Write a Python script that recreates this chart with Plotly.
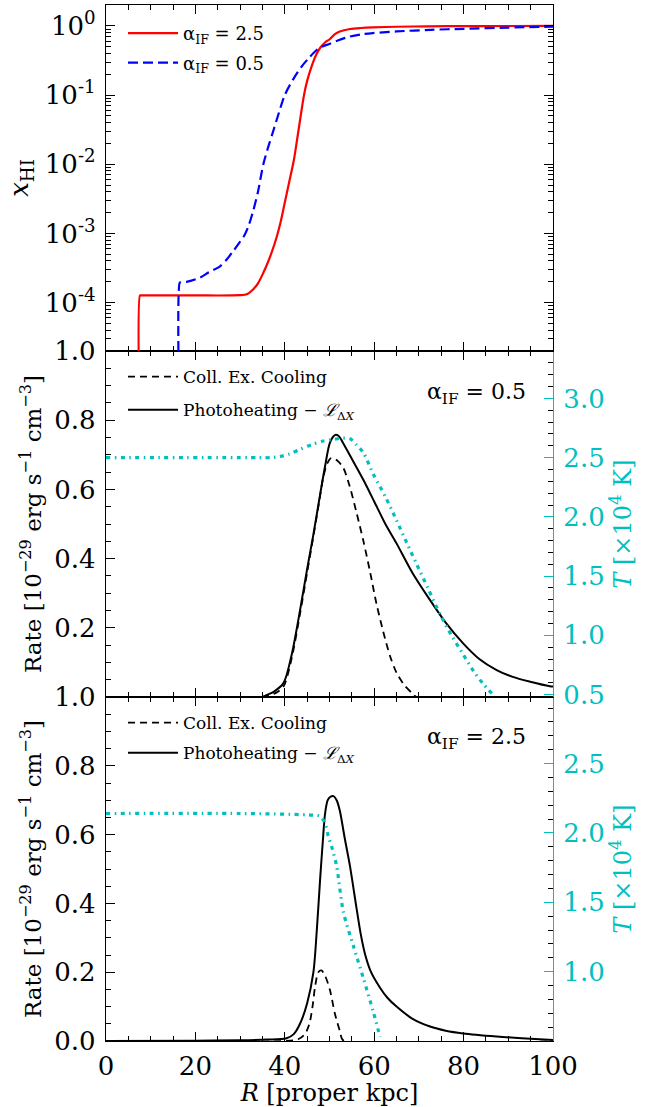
import plotly.graph_objects as go

# ---------------- data ----------------
# Panel 1: neutral fraction x_HI vs R
r_red = [7.6, 7.6, 7.8, 20, 30, 31.5, 32.9, 34, 35.2, 36.2, 37.1, 38.1, 39.0, 40.0, 41.0, 42.0, 43.1,
         44.3, 45.0, 46.0, 47.0, 48.0, 49.0, 50.1, 51.2, 52.3, 54.6, 57, 59.7, 65, 72, 80, 90, 100]
xhi_red = [1e-6, 1.27e-4, 1.27e-4, 1.27e-4, 1.28e-4, 1.32e-4, 1.55e-4, 1.9e-4, 2.7e-4, 3.8e-4,
           5.4e-4, 8.5e-4, 1.4e-3, 2.8e-3, 5.6e-3, 1.12e-2, 3.2e-2, 0.10, 0.16, 0.26, 0.38, 0.49,
           0.575, 0.645, 0.76, 0.83, 0.90, 0.93, 0.95, 0.97, 0.984, 0.99, 0.995, 0.998]

r_blue = [16.5, 16.5, 16.7, 18, 21, 23, 25.5, 27, 28.5, 30.0, 31.0, 32.0, 33.0, 34.0, 35.2, 36.3,
          37.4, 38.7, 40.0, 41.9, 43.8, 45.5, 47.0, 48.3, 50.1, 52.0, 54.6, 57, 59.7, 65, 72.5,
          80, 90, 100]
xhi_blue = [1e-6, 1.96e-4, 1.96e-4, 2.0e-4, 2.3e-4, 2.75e-4, 3.35e-4, 4.2e-4, 5.6e-4, 7.6e-4,
            9.5e-4, 1.35e-3, 2.2e-3, 4.0e-3, 1.0e-2, 1.78e-2, 3.0e-2, 5.6e-2, 0.10, 0.17, 0.26,
            0.35, 0.44, 0.50, 0.55, 0.62, 0.70, 0.75, 0.785, 0.83, 0.875, 0.906, 0.944, 0.973]

# Panel 2: alpha_IF = 0.5
r_coll05 = [0, 35, 36.5, 38, 39.7, 41.5, 43.4, 45, 46.4, 47.7, 48.6, 49.5, 50.3, 51, 52, 53.1, 54.5,
            56.1, 57.6, 59.1, 60.5, 62.0, 63.5, 65.0, 66.7, 68.4, 69.5, 100]
coll05 = [0, 0, 0.005, 0.012, 0.03, 0.11, 0.24, 0.36, 0.465, 0.565, 0.635, 0.675, 0.69, 0.69, 0.68,
          0.662, 0.61, 0.53, 0.45, 0.36, 0.27, 0.19, 0.12, 0.07, 0.035, 0.012, 0.0, 0]

r_heat05 = [0, 35, 36, 37.5, 39.7, 41.5, 43.4, 45, 46.4, 47.7, 49.0, 50.1, 51.2, 52.0, 53, 54.5, 56,
            57.6, 60, 62.5, 65.0, 68.5, 72.5, 76, 79.9, 83.5, 87.4, 91, 94.9, 99.3, 100]
heat05 = [0, 0, 0.006, 0.015, 0.04, 0.12, 0.25, 0.37, 0.47, 0.57, 0.666, 0.735, 0.757, 0.755, 0.735,
          0.70, 0.665, 0.627, 0.565, 0.50, 0.444, 0.36, 0.28, 0.215, 0.155, 0.11, 0.078, 0.058,
          0.044, 0.031, 0.03]

r_temp05 = [0, 34, 37, 38.9, 41, 43.4, 46, 48.6, 51, 53, 54.6, 56, 57.6, 59.8, 62.5, 65.0, 67.3,
            69.5, 72, 74.7, 77.3, 79.9, 82.2, 84.4, 86.3]
temp05 = [2.5, 2.5, 2.5, 2.51, 2.53, 2.57, 2.61, 2.64, 2.655, 2.665, 2.66, 2.61, 2.54, 2.36, 2.17,
          1.97, 1.78, 1.60, 1.40, 1.18, 1.0, 0.84, 0.70, 0.59, 0.51]

# Panel 3: alpha_IF = 2.5
r_coll25 = [0, 40, 43, 44.5, 45.5, 46.2, 46.8, 47.5, 48.2, 49, 50.1, 51.2, 52.3, 53.2, 100]
coll25 = [0, 0, 0.005, 0.02, 0.05, 0.1, 0.16, 0.2, 0.205, 0.19, 0.148, 0.08, 0.03, 0.0, 0]

r_heat25 = [0, 20, 30, 36, 40.4, 42, 43.4, 45, 46.4, 47.2, 47.9, 48.5, 49.0, 49.6, 50.2, 50.9, 51.6,
            52.3, 53.4, 54.6, 56, 57, 58, 59.3, 61.3, 63, 65.0, 68.5, 72.5, 76, 79.9, 87.4, 93, 100]
heat25 = [0.0, 0.001, 0.002, 0.004, 0.008, 0.02, 0.05, 0.11, 0.2, 0.33, 0.47, 0.58, 0.66, 0.70, 0.71,
          0.712, 0.70, 0.67, 0.59, 0.507, 0.39, 0.31, 0.25, 0.2, 0.155, 0.125, 0.10, 0.065, 0.042,
          0.03, 0.022, 0.013, 0.008, 0.003]

r_temp25 = [0, 30, 45, 47.9, 49.0, 49.7, 50.5, 51.6, 53.1, 55.3, 57.6, 59.8, 61.3]
temp25 = [2.14, 2.14, 2.13, 2.12, 2.07, 1.98, 1.9, 1.76, 1.43, 1.19, 0.95, 0.71, 0.53]

# ticks
x_ticks = [0, 20, 40, 60, 80, 100]
log_ticks = [1e-4, 1e-3, 1e-2, 1e-1, 1]
log_labels = ["10<sup>-4</sup>", "10<sup>-3</sup>", "10<sup>-2</sup>", "10<sup>-1</sup>", "10<sup>0</sup>"]
rate_ticks_mid = [0.2, 0.4, 0.6, 0.8, 1.0]
rate_ticks_bot = [0.0, 0.2, 0.4, 0.6, 0.8, 1.0]
t_ticks_mid = [0.5, 1.0, 1.5, 2.0, 2.5, 3.0]
t_ticks_bot = [0.5, 1.0, 1.5, 2.0, 2.5]
t_labels_bot = ["", "1.0", "1.5", "2.0", "2.5"]

# ---------------- style ----------------
FONT = "DejaVu Serif"
CYAN = "#00BFBF"
W, H = 652, 1107
L, R, T, B = 106, 99, 5, 66
PH = H - T - B


def py(ypix):
    return (H - B - ypix) / PH


def px(xpix):
    return (xpix - L) / (W - L - R)


CYAN_DASH = "4px,4.5px,1.5px,4.5px"
SPL = dict(shape="spline", smoothing=0.8)

fig = go.Figure()

# panel 1
fig.add_trace(go.Scatter(x=r_red, y=xhi_red, mode="lines", xaxis="x3", yaxis="y3",
                         line=dict(color="#FF0000", width=2.2, **SPL),
                         name="α<sub>IF</sub> = 2.5", legend="legend", legendgroup="a"))
fig.add_trace(go.Scatter(x=r_blue, y=xhi_blue, mode="lines", xaxis="x3", yaxis="y3",
                         line=dict(color="#0000FF", width=2.2, dash="10px,5px", **SPL),
                         name="α<sub>IF</sub> = 0.5", legend="legend", legendgroup="b"))

# panel 2
fig.add_trace(go.Scatter(x=r_temp05, y=temp05, mode="lines", xaxis="x2", yaxis="y5",
                         line=dict(color=CYAN, width=3.2, dash=CYAN_DASH, **SPL), showlegend=False))
fig.add_trace(go.Scatter(x=r_coll05, y=coll05, mode="lines", xaxis="x2", yaxis="y2",
                         line=dict(color="black", width=1.8, dash="7px,5px", **SPL),
                         name="Coll. Ex. Cooling", legend="legend2", legendgroup="c"))
fig.add_trace(go.Scatter(x=r_heat05, y=heat05, mode="lines", xaxis="x2", yaxis="y2",
                         line=dict(color="black", width=2, **SPL),
                         name="Photoheating − <i>ℒ</i><sub>Δ<i>X</i></sub>", legend="legend2",
                         legendgroup="d"))

# panel 3
fig.add_trace(go.Scatter(x=r_temp25, y=temp25, mode="lines", xaxis="x", yaxis="y4",
                         line=dict(color=CYAN, width=3.2, dash=CYAN_DASH, **SPL), showlegend=False))
fig.add_trace(go.Scatter(x=r_coll25, y=coll25, mode="lines", xaxis="x", yaxis="y",
                         line=dict(color="black", width=1.8, dash="7px,5px", **SPL),
                         name="Coll. Ex. Cooling", legend="legend3", legendgroup="e"))
fig.add_trace(go.Scatter(x=r_heat25, y=heat25, mode="lines", xaxis="x", yaxis="y",
                         line=dict(color="black", width=2, **SPL),
                         name="Photoheating − <i>ℒ</i><sub>Δ<i>X</i></sub>", legend="legend3",
                         legendgroup="f"))

tickfont = dict(family=FONT, size=26, color="black")
axline = dict(showline=True, linecolor="black", linewidth=1.3, showgrid=False, zeroline=False,
              ticks="inside", tickcolor="black", tickwidth=1.2, automargin=False)

xcommon = dict(range=[0, 100], tickvals=x_ticks, ticklen=9, mirror="ticks",
               minor=dict(ticks="inside", dtick=5, ticklen=4.5, tickcolor="black", tickwidth=1.1),
               **axline)

d1 = [py(351), 1.0]
d2 = [py(697), py(351)]
d3 = [0.0, py(697)]

rate_title = dict(text="Rate [10<sup>−29</sup> erg s<sup>−1</sup> cm<sup>−3</sup>]",
                  font=dict(family=FONT, size=23), standoff=6)
t_title = dict(text="<i>T</i> [×10<sup>4</sup> K]", font=dict(family=FONT, size=24, color=CYAN),
               standoff=6)
rminor = dict(ticks="inside", dtick=0.05, ticklen=4.5, tickcolor="black", tickwidth=1.1)
tminor = dict(ticks="inside", dtick=0.1, ticklen=4.5, tickcolor="black", tickwidth=1.1)
taxis = dict(showline=True, linecolor=CYAN, linewidth=1.3, showgrid=False, zeroline=False,
             ticks="inside", tickcolor=CYAN, tickwidth=1.2, ticklen=9, automargin=False,
             tickfont=dict(family=FONT, size=26, color=CYAN), ticklabelstandoff=4)
legcommon = dict(xanchor="left", yanchor="top", bgcolor="rgba(0,0,0,0)", traceorder="grouped",
                 itemwidth=50)

fig.update_layout(
    width=W, height=H,
    margin=dict(l=L, r=R, t=T, b=B, autoexpand=False),
    paper_bgcolor="white", plot_bgcolor="white",
    font=dict(family=FONT, color="black"),
    xaxis=dict(domain=[0, 1], anchor="y", tickfont=tickfont, ticklabelstandoff=2,
               title=dict(text="<i>R</i> [proper kpc]", font=dict(family=FONT, size=24), standoff=6),
               **xcommon),
    xaxis2=dict(domain=[0, 1], anchor="y2", matches="x", showticklabels=False, **xcommon),
    xaxis3=dict(domain=[0, 1], anchor="y3", matches="x", showticklabels=False, **xcommon),
    yaxis=dict(domain=d3, anchor="x", range=[0, 1.0], tickvals=rate_ticks_bot, tickformat=".1f",
               tickfont=tickfont, ticklen=9, ticklabelstandoff=4, minor=rminor,
               title=rate_title, **axline),
    yaxis2=dict(domain=d2, anchor="x2", range=[0, 1.0], tickvals=rate_ticks_mid, tickformat=".1f",
                tickfont=tickfont, ticklen=9, ticklabelstandoff=4, minor=rminor,
                title=rate_title, **axline),
    yaxis3=dict(domain=d1, anchor="x3", type="log", range=[-4.699, 0.301], tickvals=log_ticks,
                ticktext=log_labels, tickfont=tickfont, ticklen=9, mirror="ticks", ticklabelstandoff=4,
                minor=dict(ticks="inside", dtick="D1", ticklen=4.5, tickcolor="black", tickwidth=1.1),
                title=dict(text="<i>x</i><sub>HI</sub>", font=dict(family=FONT, size=26), standoff=8),
                **axline),
    yaxis4=dict(overlaying="y", side="right", anchor="x", range=[0.5, 2.98], tickvals=t_ticks_bot,
                ticktext=t_labels_bot, minor=tminor, title=t_title, **taxis),
    yaxis5=dict(overlaying="y2", side="right", anchor="x2", range=[0.48, 3.40], tickvals=t_ticks_mid,
                tickformat=".1f", minor=tminor, title=t_title, **taxis),
    legend=dict(x=px(123), y=py(15), font=dict(family=FONT, size=18), tracegroupgap=3, **legcommon),
    legend2=dict(x=px(123), y=py(359), font=dict(family=FONT, size=17), tracegroupgap=8, **legcommon),
    legend3=dict(x=px(123), y=py(705), font=dict(family=FONT, size=17), tracegroupgap=5, **legcommon),
    annotations=[
        dict(text="α<sub>IF</sub> = 0.5", x=px(528), y=py(393), xref="paper", yref="paper",
             xanchor="right", yanchor="middle", showarrow=False, font=dict(family=FONT, size=22)),
        dict(text="α<sub>IF</sub> = 2.5", x=px(528), y=py(738), xref="paper", yref="paper",
             xanchor="right", yanchor="middle", showarrow=False, font=dict(family=FONT, size=22)),
    ],
)

fig.write_html("out.html")
